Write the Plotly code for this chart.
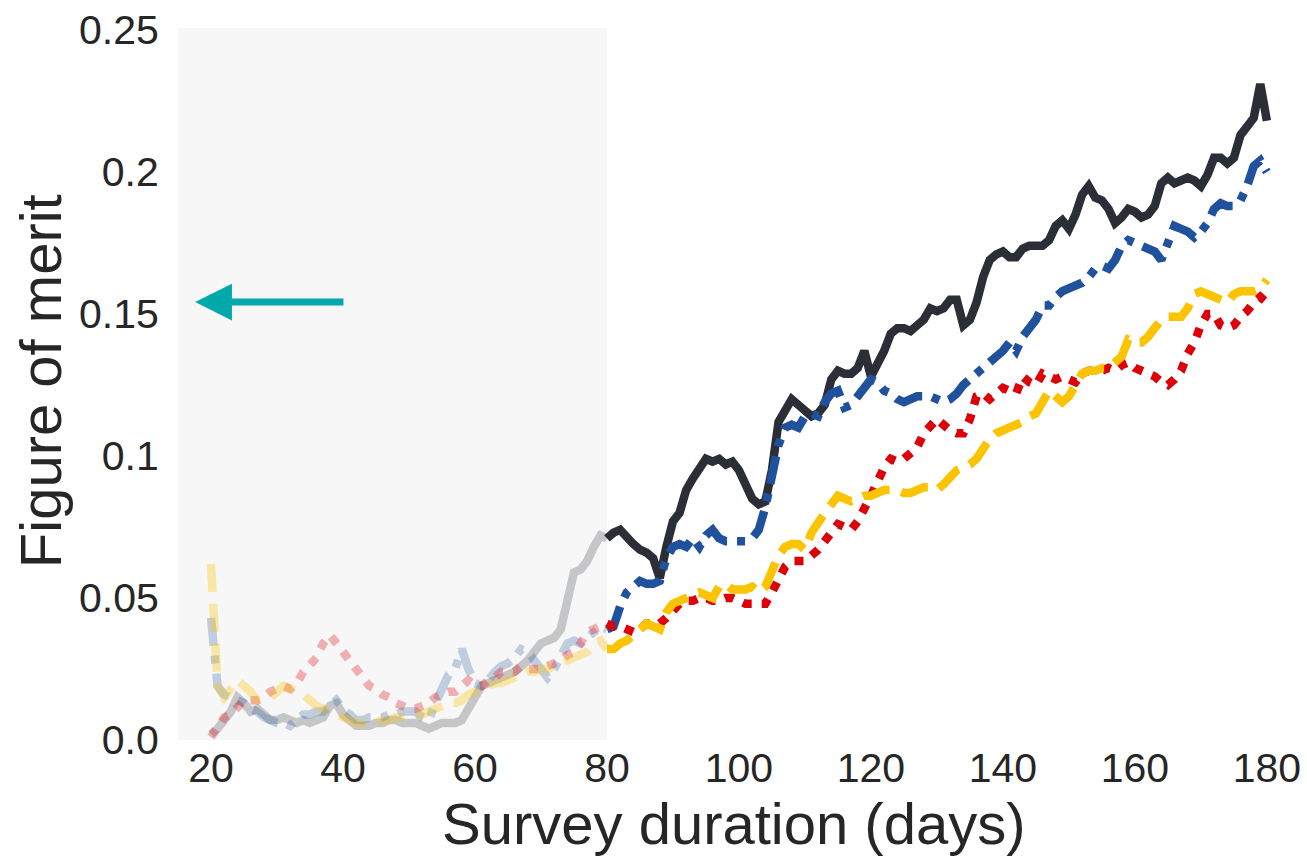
import plotly.graph_objects as go

days = list(range(20, 181))

black = [0.002, 0.004, 0.007, 0.010, 0.015, 0.013, 0.010, 0.011, 0.009, 0.007,
         0.007, 0.008, 0.007, 0.006, 0.007, 0.006, 0.007, 0.008, 0.012, 0.013,
         0.009, 0.007, 0.005, 0.005, 0.005, 0.006, 0.006, 0.007, 0.007, 0.006,
         0.006, 0.006, 0.005, 0.004, 0.005, 0.006, 0.006, 0.006, 0.007, 0.011,
         0.016, 0.019, 0.020, 0.021, 0.022, 0.023, 0.024, 0.026, 0.028, 0.031,
         0.034, 0.035, 0.036, 0.039, 0.048, 0.059, 0.060, 0.063, 0.068, 0.072,
         0.071, 0.073, 0.074, 0.071, 0.069, 0.067, 0.066, 0.064, 0.057, 0.068,
         0.077, 0.080, 0.088, 0.092, 0.095, 0.099, 0.098, 0.099, 0.097, 0.098,
         0.095, 0.089, 0.085, 0.083, 0.084, 0.095, 0.112, 0.116, 0.120, 0.118,
         0.116, 0.114, 0.115, 0.118, 0.127, 0.130, 0.129, 0.129, 0.131, 0.137,
         0.128, 0.132, 0.137, 0.143, 0.145, 0.145, 0.144, 0.146, 0.148, 0.152,
         0.151, 0.152, 0.155, 0.155, 0.146, 0.148, 0.154, 0.163, 0.169, 0.171,
         0.172, 0.170, 0.170, 0.173, 0.174, 0.174, 0.174, 0.176, 0.181, 0.183,
         0.180, 0.185, 0.192, 0.195, 0.191, 0.190, 0.187, 0.182, 0.184, 0.187,
         0.186, 0.184, 0.185, 0.188, 0.196, 0.198, 0.196, 0.197, 0.198, 0.197,
         0.195, 0.199, 0.205, 0.205, 0.203, 0.205, 0.213, 0.216, 0.219, 0.231,
         0.218]

blue = [0.043, 0.019, 0.016, 0.015, 0.014, 0.013, 0.011, 0.010, 0.008, 0.007,
        0.006, 0.006, 0.005, 0.007, 0.009, 0.009, 0.010, 0.010, 0.012, 0.014,
        0.011, 0.009, 0.007, 0.007, 0.008, 0.008, 0.008, 0.009, 0.009, 0.010,
        0.010, 0.010, 0.008, 0.007, 0.013, 0.018, 0.023, 0.025, 0.032, 0.025,
        0.020, 0.019, 0.021, 0.024, 0.026, 0.027, 0.029, 0.032, 0.031, 0.028,
        0.025, 0.022, 0.025, 0.029, 0.034, 0.035, 0.034, 0.036, 0.038, 0.040,
        0.039, 0.040, 0.047, 0.052, 0.054, 0.056, 0.055, 0.055, 0.056, 0.064,
        0.068, 0.069, 0.068, 0.071, 0.068, 0.072, 0.074, 0.071, 0.070, 0.070,
        0.070, 0.070, 0.071, 0.074, 0.082, 0.094, 0.104, 0.110, 0.111, 0.110,
        0.114, 0.115, 0.114, 0.119, 0.122, 0.123, 0.117, 0.118, 0.121, 0.125,
        0.127, 0.126, 0.123, 0.122, 0.120, 0.119, 0.120, 0.121, 0.121, 0.121,
        0.120, 0.119, 0.120, 0.122, 0.125, 0.127, 0.129, 0.131, 0.133, 0.135,
        0.137, 0.140, 0.137, 0.142, 0.145, 0.148, 0.153, 0.153, 0.156, 0.158,
        0.159, 0.160, 0.161, 0.163, 0.166, 0.167, 0.166, 0.169, 0.174, 0.176,
        0.175, 0.174, 0.173, 0.172, 0.169, 0.175, 0.181, 0.180, 0.179, 0.177,
        0.179, 0.182, 0.187, 0.189, 0.188, 0.188, 0.190, 0.195, 0.202, 0.204,
        0.200]

red = [0.001, 0.004, 0.008, 0.009, 0.012, 0.014, 0.014, 0.014, 0.015, 0.017,
       0.018, 0.019, 0.018, 0.020, 0.024, 0.027, 0.029, 0.034, 0.037, 0.034,
       0.031, 0.027, 0.024, 0.021, 0.019, 0.018, 0.016, 0.015, 0.013, 0.012,
       0.011, 0.011, 0.012, 0.013, 0.015, 0.016, 0.017, 0.017, 0.019, 0.021,
       0.019, 0.019, 0.021, 0.022, 0.024, 0.024, 0.024, 0.026, 0.025, 0.025,
       0.025, 0.026, 0.027, 0.028, 0.030, 0.031, 0.034, 0.038, 0.039, 0.040,
       0.041, 0.040, 0.040, 0.039, 0.038, 0.039, 0.041, 0.041, 0.041, 0.043,
       0.046, 0.048, 0.049, 0.049, 0.050, 0.050, 0.049, 0.049, 0.050, 0.050,
       0.049, 0.048, 0.048, 0.048, 0.048, 0.052, 0.056, 0.061, 0.063, 0.063,
       0.063, 0.065, 0.067, 0.070, 0.073, 0.076, 0.075, 0.074, 0.077, 0.081,
       0.086, 0.091, 0.096, 0.099, 0.098, 0.099, 0.101, 0.103, 0.108, 0.111,
       0.113, 0.111, 0.109, 0.108, 0.108, 0.113, 0.121, 0.122, 0.120, 0.122,
       0.124, 0.123, 0.122, 0.128, 0.126, 0.125, 0.129, 0.128, 0.127, 0.128,
       0.127, 0.126, 0.129, 0.130, 0.130, 0.130, 0.131, 0.130, 0.132, 0.133,
       0.131, 0.130, 0.129, 0.128, 0.126, 0.125, 0.127, 0.130, 0.136, 0.140,
       0.146, 0.150, 0.150, 0.146, 0.145, 0.146, 0.149, 0.151, 0.154, 0.156,
       0.154]

yellow = [0.062, 0.019, 0.015, 0.018, 0.021, 0.019, 0.017, 0.014, 0.014, 0.015,
          0.017, 0.019, 0.018, 0.017, 0.016, 0.014, 0.012, 0.011, 0.010, 0.009,
          0.008, 0.007, 0.006, 0.006, 0.006, 0.006, 0.007, 0.007, 0.008, 0.008,
          0.008, 0.009, 0.009, 0.010, 0.011, 0.012, 0.013, 0.013, 0.014, 0.016,
          0.017, 0.018, 0.019, 0.020, 0.020, 0.021, 0.022, 0.023, 0.024, 0.024,
          0.025, 0.025, 0.026, 0.027, 0.028, 0.029, 0.030, 0.031, 0.034, 0.035,
          0.032, 0.032, 0.034, 0.035, 0.037, 0.039, 0.041, 0.040, 0.039, 0.045,
          0.048, 0.049, 0.050, 0.051, 0.052, 0.051, 0.050, 0.054, 0.055, 0.053,
          0.053, 0.053, 0.054, 0.052, 0.054, 0.060, 0.065, 0.068, 0.069, 0.069,
          0.067, 0.073, 0.077, 0.080, 0.083, 0.086, 0.085, 0.084, 0.085, 0.086,
          0.086, 0.087, 0.088, 0.088, 0.088, 0.087, 0.087, 0.088, 0.089, 0.089,
          0.088, 0.090, 0.093, 0.095, 0.096, 0.097, 0.099, 0.103, 0.106, 0.108,
          0.109, 0.110, 0.111, 0.112, 0.114, 0.115, 0.119, 0.123, 0.121, 0.119,
          0.121, 0.125, 0.129, 0.130, 0.130, 0.131, 0.131, 0.133, 0.135, 0.141,
          0.140, 0.140, 0.142, 0.145, 0.148, 0.149, 0.149, 0.149, 0.152, 0.157,
          0.158, 0.157, 0.156, 0.155, 0.154, 0.157, 0.158, 0.158, 0.158, 0.159,
          0.162]

y_tickvals = [0.0, 0.05, 0.1, 0.15, 0.2, 0.25]
y_ticktext = ["0.0", "0.05", "0.1", "0.15", "0.2", "0.25"]
x_tickvals = [20, 40, 60, 80, 100, 120, 140, 160, 180]

CUT = 80  # end of the shaded (early) window
series = [
    ("black", black, "#2b2d37", "solid", 0.24),
    ("blue", blue, "#1f519d", "28px,10px,8px,10px", 0.25),
    ("red", red, "#dc0008", "9px,10px", 0.29),
    ("yellow", yellow, "#fbc300", "28px,12px", 0.32),
]
LW = 8.5

fig = go.Figure()
for name, vals, color, dash, op in series:
    early_x = [d for d in days if d <= CUT]
    early_y = [v for d, v in zip(days, vals) if d <= CUT]
    late_x = [d for d in days if d >= CUT]
    late_y = [v for d, v in zip(days, vals) if d >= CUT]
    fig.add_trace(go.Scatter(x=early_x, y=early_y, mode="lines", opacity=op,
                             line=dict(color=color, width=LW, dash=dash),
                             showlegend=False, hoverinfo="skip"))
    fig.add_trace(go.Scatter(x=late_x, y=late_y, mode="lines", name=name,
                             line=dict(color=color, width=LW, dash=dash),
                             showlegend=False))

fig.add_shape(type="rect", xref="x", yref="y", x0=15, x1=CUT, y0=0, y1=0.2507,
              fillcolor="#f7f7f7", line=dict(width=0), layer="below")

fig.add_annotation(x=17.6, y=0.1542, ax=40.3, ay=0.1542, xref="x", yref="y",
                   axref="x", ayref="y", text="", showarrow=True,
                   arrowhead=2, arrowsize=1.05, arrowwidth=7,
                   arrowcolor="#00a9a9", standoff=0)

fig.add_annotation(text="Survey duration (days)", xref="paper", yref="paper",
                   x=0.5, y=-0.1166, xanchor="center", yanchor="middle",
                   showarrow=False,
                   font=dict(family="Liberation Sans, Arial", size=58, color="#262626"))
fig.add_annotation(text="Figure of merit", xref="paper", yref="paper",
                   x=-0.1243, y=0.504, xanchor="center", yanchor="middle",
                   textangle=-90, showarrow=False,
                   font=dict(family="Liberation Sans, Arial", size=58, color="#262626"))

fig.update_layout(
    width=1307, height=859,
    margin=dict(l=178, r=19, t=28, b=119),
    paper_bgcolor="white", plot_bgcolor="white",
    font=dict(family="Liberation Sans, Arial", size=41, color="#262626"),
    xaxis=dict(range=[15, 183.2], tickvals=x_tickvals, showgrid=False,
               zeroline=False, showline=False, ticks="", automargin=False,
               tickfont=dict(size=41)),
    yaxis=dict(range=[0, 0.2507], tickvals=y_tickvals, ticktext=y_ticktext,
               showgrid=False, zeroline=False, showline=False, automargin=False,
               ticks="outside", ticklen=10, tickcolor="rgba(0,0,0,0)",
               tickfont=dict(size=41)),
)

fig.write_html("out.html")
